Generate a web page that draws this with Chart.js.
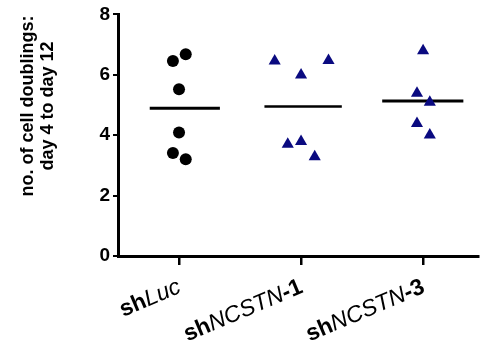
<!DOCTYPE html>
<html>
<head>
<meta charset="utf-8">
<script src="https://cdn.jsdelivr.net/npm/chart.js@4"></script>
<style>
  html, body { margin: 0; padding: 0; background: #fff; }
  #wrap { width: 485px; height: 349px; }
</style>
</head>
<body>
<div id="wrap"><canvas id="myChart"></canvas></div>
<script>
  // data
  const groups = ['shLuc', 'shNCSTN-1', 'shNCSTN-3'];
  const shLuc = [6.46, 6.68, 5.52, 4.09, 3.41, 3.20];
  const shNCSTN1 = [6.46, 5.99, 6.47, 3.70, 3.79, 3.29];
  const shNCSTN3 = [6.80, 5.39, 5.09, 4.39, 4.01];
  const yTicks = [0, 2, 4, 6, 8];

  // horizontal scatter of the points around each group (layout only)
  const jitter = [
    [-0.05, 0.055, 0, 0, -0.05, 0.055],
    [-0.216, 0, 0.225, -0.109, 0, 0.112],
    [0, -0.05, 0.055, -0.05, 0.055]
  ];
  const meanSpan = [[-0.24, 0.335], [-0.30, 0.334], [-0.335, 0.33]];

  const series = [shLuc, shNCSTN1, shNCSTN3];
  const mean = arr => arr.reduce((a, b) => a + b, 0) / arr.length;

  const pointSets = series.map((vals, i) => ({
    type: 'scatter',
    data: vals.map((v, j) => ({ x: i + 1 + jitter[i][j], y: v })),
    pointStyle: i === 0 ? 'circle' : 'triangle',
    pointRadius: i === 0 ? 6 : 7,
    backgroundColor: i === 0 ? '#000' : '#0a0a80',
    borderWidth: 0
  }));

  const meanSets = series.map((vals, i) => ({
    type: 'line',
    data: [
      { x: i + 1 + meanSpan[i][0], y: mean(vals) },
      { x: i + 1 + meanSpan[i][1], y: mean(vals) }
    ],
    borderColor: '#000',
    borderWidth: i === 1 ? 2.5 : 3,
    pointRadius: 0,
    fill: false
  }));

  // x labels: "sh" bold, gene name italic
  const labelParts = [
    [['sh', 'bold'], ['Luc', 'italic']],
    [['sh', 'bold'], ['NCSTN', 'italic'], ['-1', 'bold']],
    [['sh', 'bold'], ['NCSTN', 'italic'], ['-3', 'bold']]
  ];

  const extraText = {
    id: 'extraText',
    afterDraw(chart) {
      const c = chart.ctx;
      const xs = chart.scales.x;
      const bottom = chart.chartArea.bottom;
      c.save();
      c.fillStyle = '#000';
      labelParts.forEach((parts, i) => {
        const px = xs.getPixelForValue(i + 1);
        const fonts = parts.map(p => (p[1] === 'bold' ? 'bold ' : 'italic ') + '23px "Liberation Sans", Arial, sans-serif');
        let total = 0;
        const widths = parts.map((p, k) => { c.font = fonts[k]; const w = c.measureText(p[0]).width; total += w; return w; });
        c.save();
        c.translate(px + 3, bottom + 36);
        c.rotate(-23 * Math.PI / 180);
        c.textBaseline = 'alphabetic';
        c.textAlign = 'left';
        let x = -total;
        parts.forEach((p, k) => { c.font = fonts[k]; c.fillText(p[0], x, 0); x += widths[k]; });
        c.restore();
      });
      // y axis title
      c.translate(33, 106);
      c.rotate(-Math.PI / 2);
      c.font = 'bold 18px "Liberation Sans", Arial, sans-serif';
      c.textAlign = 'center';
      c.textBaseline = 'alphabetic';
      c.fillText('no. of cell doublings:', 0, 0);
      c.fillText('day 4 to day 12', 0, 20);
      c.restore();
    }
  };

  new Chart(document.getElementById('myChart'), {
    type: 'scatter',
    data: { datasets: pointSets.concat(meanSets) },
    options: {
      responsive: true,
      maintainAspectRatio: false,
      animation: false,
      layout: { padding: { top: 14, left: 0, right: 0, bottom: 0 } },
      plugins: { legend: { display: false }, tooltip: { enabled: false } },
      scales: {
        x: {
          type: 'linear',
          min: 0.5,
          max: 3.45,
          afterBuildTicks: s => { s.ticks = groups.map((g, i) => ({ value: i + 1 })); },
          afterFit: s => { s.height = 93; },
          ticks: { display: false },
          grid: { drawOnChartArea: false, drawTicks: true, tickLength: 9, lineWidth: 2.5, color: '#000' },
          border: { display: true, width: 3, color: '#000' }
        },
        y: {
          min: 0,
          max: 8,
          afterBuildTicks: s => { s.ticks = yTicks.map(v => ({ value: v })); },
          afterFit: s => { s.width = 118; },
          ticks: {
            color: '#000',
            padding: 3,
            font: { family: '"Liberation Sans", Arial, sans-serif', size: 19, weight: 'bold' }
          },
          grid: { drawOnChartArea: false, drawTicks: true, tickLength: 5, lineWidth: 2, color: '#000' },
          border: { display: true, width: 3, color: '#000' }
        }
      }
    },
    plugins: [extraText]
  });
</script>
</body>
</html>
